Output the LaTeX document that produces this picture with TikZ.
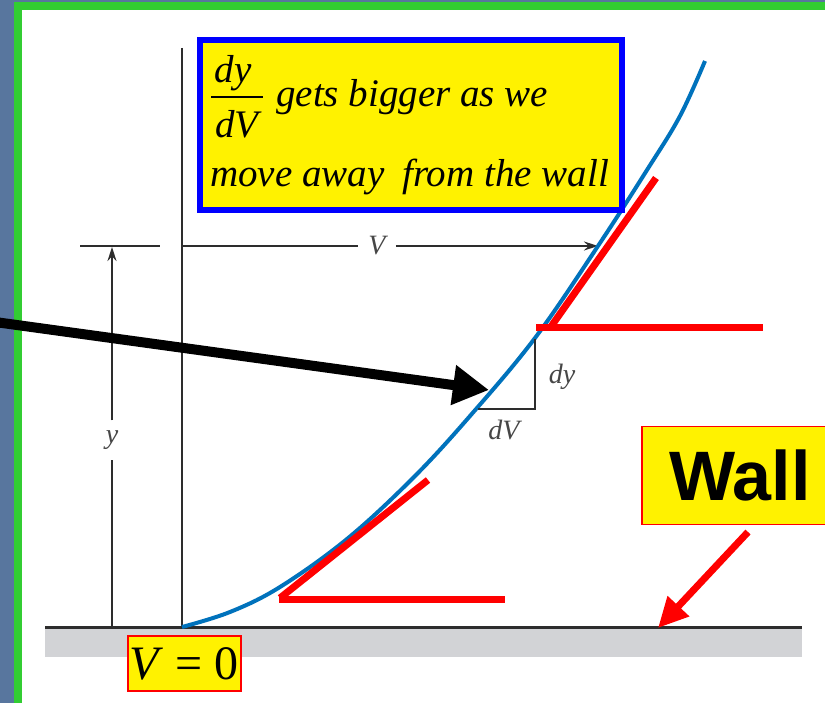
\documentclass[tikz,border=0pt]{standalone}
\usepackage{fontspec}
\setmainfont{Liberation Serif}
\newfontfamily\wallfont{Liberation Sans}
\usetikzlibrary{arrows.meta}
\definecolor{bgblue}{RGB}{88,118,158}
\definecolor{framegreen}{RGB}{50,205,50}
\definecolor{curveblue}{RGB}{0,114,188}
\definecolor{groundgray}{RGB}{210,211,214}
\definecolor{axisgray}{RGB}{45,45,45}
\definecolor{labelgray}{RGB}{70,70,70}
\tikzset{
  axisline/.style={draw=axisgray, line width=2pt},
  dimline/.style={draw=axisgray, line width=1.5pt},
  dimarrow/.style={dimline, -{Stealth[length=14pt,width=9pt]}},
  dimlabel/.style={text=labelgray, font=\fontsize{28}{30}\selectfont\itshape, inner sep=10pt},
  redline/.style={draw=red, line width=7pt},
  callout/.style={fill=yellow, draw=red, line width=1.5pt, inner sep=0pt},
  notetext/.style={font=\fontsize{39}{41}\selectfont\itshape, inner sep=0pt},
}
\begin{document}
\begin{tikzpicture}[x=1pt,y=-1pt]
\useasboundingbox (0,0) rectangle (825,703);
% background and frame
\fill[bgblue] (0,0) rectangle (825,703);
\fill[framegreen] (14,2) rectangle (830,710);
\fill[white] (22,10) rectangle (830,710);
% ground
\coordinate (gL) at (45,627);
\coordinate (gR) at (802,627);
\fill[groundgray] (45,627) rectangle (802,657);
\draw[axisline, line width=3pt] (gL) -- (gR);
% axis
\coordinate (atop) at (182,48);
\coordinate (origin) at (182,627);
\draw[axisline] (atop) -- (origin);
% y dimension
\coordinate (ytickL) at (80,246);
\coordinate (ytickR) at (160,246);
\draw[dimline] (ytickL) -- (ytickR);
\node[dimlabel] (ylab) at (112,440) {y};
\coordinate (ybot) at (112,627);
\coordinate (ytop) at (112,247);
\draw[dimline] (ybot) -- (ylab);
\draw[dimarrow] (ylab) -- (ytop);
% V dimension
\node[dimlabel] (Vlab) at (377,246) {V};
\coordinate (vstart) at (182,246);
\coordinate (vend) at (598,246);
\draw[dimline] (vstart) -- (Vlab);
\draw[dimarrow] (Vlab) -- (vend);
% curve
\draw[curveblue, line width=4pt] plot[smooth, tension=0.6] coordinates {(182,627) (230,612) (280,587) (347,539) (413,478) (470,416) (535,338) (598,246) (647,170) (680,116) (705,61)};
% small triangle
\coordinate (tA) at (478,409);
\coordinate (tB) at (535,409);
\coordinate (tC) at (535,339);
\draw[axisline] (tA) -- (tB) -- (tC);
\node[dimlabel, inner sep=0pt] (dylab) at (562,377) {dy};
\node[dimlabel, inner sep=0pt] (dVlab) at (504,430) {dV};
% red tangents
\coordinate (rU1) at (550,328);
\coordinate (rU2) at (656,178);
\coordinate (rH1) at (536,328);
\coordinate (rH2) at (763,328);
\draw[redline] (rU2) -- (rU1);
\draw[redline] (rH1) -- (rH2);
\coordinate (rL1) at (280,598);
\coordinate (rL2) at (428,480);
\coordinate (rLH1) at (279,599);
\coordinate (rLH2) at (505,599);
\draw[redline] (rL2) -- (rL1);
\draw[redline] (rLH1) -- (rLH2);
% note box
\node[draw=blue, line width=6pt, fill=yellow, minimum width=422pt, minimum height=170pt, inner sep=0pt] (note) at (411,125) {};
\node[notetext, anchor=base] (num) at (233,83) {dy};
\node[notetext, anchor=base] (den) at (237,138) {dV};
\coordinate (fracL) at (211,97);
\coordinate (fracR) at (263,97);
\draw[line width=1.8pt] (fracL) -- (fracR);
\node[notetext, anchor=base west] (l1) at (276,107) {gets bigger as we};
\node[notetext, anchor=base west] (l2) at (210,187) {move away\hspace{8pt} from the wall};
% V = 0 box
\node[callout, minimum width=113pt, minimum height=55pt, font=\fontsize{48}{50}\selectfont] (v0) at (184.5,663.5) {\textit{V} = 0};
% Wall box
\node[callout, minimum width=196pt, minimum height=98pt, font=\wallfont\bfseries\fontsize{70}{72}\selectfont] (wallbox) at (740,475.5) {Wall};
\coordinate (wallFrom) at (748,532);
\coordinate (wallTip) at (658,628);
\draw[red, line width=7pt, -{Triangle[length=30pt,width=28pt]}] (wallFrom) -- (wallTip);
% black arrow
\coordinate (bStart) at (-5,322);
\coordinate (bTip) at (489,390);
\draw[black, line width=10pt, -{Triangle[length=36pt,width=38pt]}] (bStart) -- (bTip);
\end{tikzpicture}
\end{document}
